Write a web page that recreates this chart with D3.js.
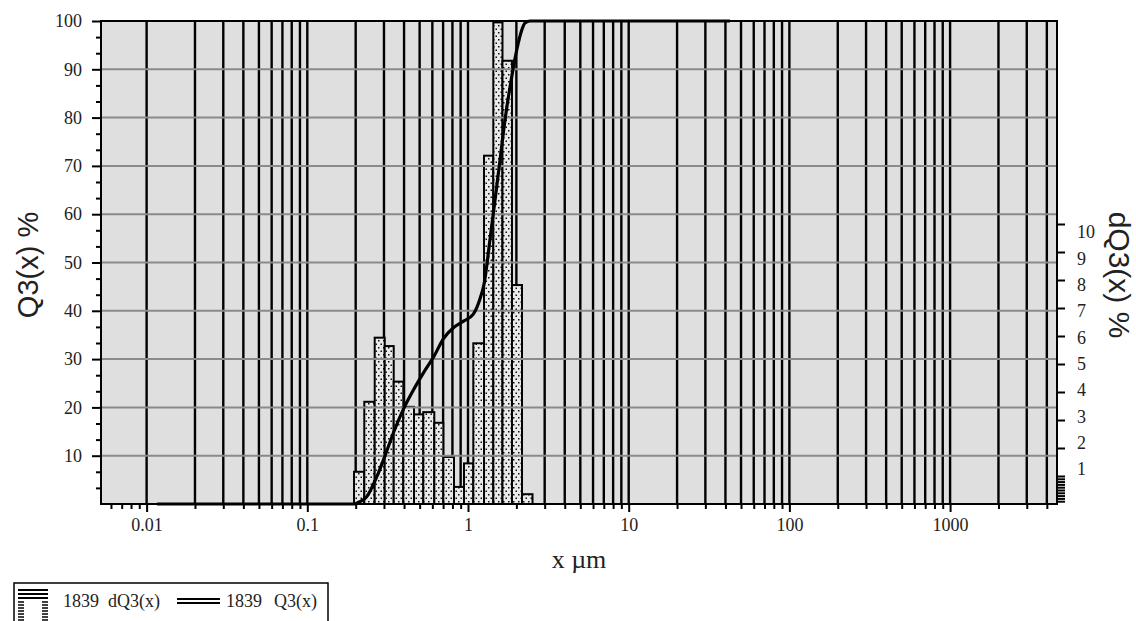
<!DOCTYPE html>
<html>
<head>
<meta charset="utf-8">
<script src="https://cdn.jsdelivr.net/npm/d3@7"></script>
<style>
  body { margin: 0; background: #fff; }
  .tick text { font-family: "Liberation Serif", serif; font-size: 18px; fill: #222; }
  .tick line { stroke: #000; stroke-width: 2px; }
</style>
</head>
<body>
<script>
// size classes (um) and class percentages dQ3
var binEdges = [0.1953, 0.2263, 0.2627, 0.3031, 0.3449, 0.3957, 0.4613, 0.527, 0.617, 0.7019,
                0.8182, 0.9443, 1.079, 1.258, 1.437, 1.639, 1.878, 2.168, 2.52];
var dQ3 = [1.15, 3.65, 5.94, 5.64, 4.37, 3.47, 3.2, 3.28, 2.9, 1.68, 0.61, 1.45, 5.74, 12.44, 17.2, 15.83, 7.82, 0.35];

// cumulative curve Q3
var q3X = [0.0116, 0.1953, 0.2068, 0.2342, 0.2703, 0.303, 0.345, 0.396, 0.461, 0.527, 0.617, 0.702,
           0.818, 0.944, 1.079, 1.188, 1.258, 1.37, 1.472, 1.582, 1.699, 1.87, 2.01, 2.159, 2.263, 2.431, 42.7];
var q3Y = [0, 0, 0.3, 1.5, 5.6, 9.8, 14.9, 19.6, 23.8, 27.1, 30.7, 34.2,
           36.6, 37.9, 39.3, 42.5, 45.5, 54.7, 62.9, 71.2, 79.5, 88.4, 94, 98.1, 99.6, 100, 100];

var xTicks = [0.01, 0.1, 1, 10, 100, 1000];
var xTickLabels = ["0.01", "0.1", "1", "10", "100", "1000"];
var leftTicks = [10, 20, 30, 40, 50, 60, 70, 80, 90, 100];
var rightTicks = [1, 2, 3, 4, 5, 6, 7, 8, 9, 10];

var W = 1136, H = 621;
var L = 101, R = 1057, T = 21, B = 504;

var svg = d3.select("body").append("svg")
  .attr("width", W).attr("height", H);

var x = d3.scaleLog().domain([0.005202, 4627]).range([L, R]);
var yL = d3.scaleLinear().domain([0, 100]).range([B, T]);
var yR = d3.scaleLinear().domain([0, 17.25]).range([B, T]);
// the right labels sit a little off the ticks in the original
var yRLabel = d3.scaleLinear().domain([1, 10]).range([469, 232]);

// dotted fill for the bars
var defs = svg.append("defs");
var pat = defs.append("pattern").attr("id", "dots")
  .attr("patternUnits", "userSpaceOnUse").attr("width", 5).attr("height", 7);
pat.append("rect").attr("width", 5).attr("height", 7).attr("fill", "#e9e9e9");
pat.append("rect").attr("x", 0.5).attr("y", 0.5).attr("width", 1.5).attr("height", 1.5).attr("fill", "#111");
pat.append("rect").attr("x", 3).attr("y", 4).attr("width", 1.5).attr("height", 1.5).attr("fill", "#111");

var clip = defs.append("clipPath").attr("id", "plotclip");
clip.append("rect").attr("x", L).attr("y", T).attr("width", R - L).attr("height", B - T);

// plot background
svg.append("rect").attr("x", L).attr("y", T).attr("width", R - L).attr("height", B - T)
  .attr("fill", "#dfdfdf");

// log grid, vertical
var gridX = [];
for (var e = -2; e <= 3; e++) {
  for (var k = 1; k <= 9; k++) {
    var v = k * Math.pow(10, e);
    if (v >= 0.01 && v < 4627) gridX.push(v);
  }
}
var plot = svg.append("g").attr("clip-path", "url(#plotclip)");
plot.selectAll(".vgrid").data(gridX).enter().append("line")
  .attr("class", "vgrid")
  .attr("x1", function(d) { return x(d); }).attr("x2", function(d) { return x(d); })
  .attr("y1", T).attr("y2", B)
  .attr("stroke", "#000").attr("stroke-width", 2.4);

// histogram
var bars = dQ3.map(function(v, i) { return { x0: binEdges[i], x1: binEdges[i + 1], v: v }; });
plot.selectAll(".bar").data(bars).enter().append("rect")
  .attr("class", "bar")
  .attr("x", function(d) { return x(d.x0); })
  .attr("width", function(d) { return x(d.x1) - x(d.x0); })
  .attr("y", function(d) { return yR(d.v); })
  .attr("height", function(d) { return yR(0) - yR(d.v); })
  .attr("fill", "url(#dots)")
  .attr("stroke", "#000").attr("stroke-width", 2);

// horizontal grid
plot.selectAll(".hgrid").data(leftTicks.slice(0, 9)).enter().append("line")
  .attr("class", "hgrid")
  .attr("x1", L).attr("x2", R)
  .attr("y1", function(d) { return yL(d); }).attr("y2", function(d) { return yL(d); })
  .attr("stroke", "#8a8a8a").attr("stroke-width", 2);

// Q3 curve
var line = d3.line()
  .x(function(d) { return x(d[0]); })
  .y(function(d) { return yL(d[1]); })
  .curve(d3.curveMonotoneX);
svg.append("path")
  .datum(q3X.map(function(v, i) { return [v, q3Y[i]]; }))
  .attr("d", line)
  .attr("fill", "none").attr("stroke", "#000").attr("stroke-width", 3.2);

// frame
svg.append("rect").attr("x", L).attr("y", T).attr("width", R - L).attr("height", B - T)
  .attr("fill", "none").attr("stroke", "#000").attr("stroke-width", 2);

// x axis
var minorX = [];
for (var e2 = -3; e2 <= 3; e2++) {
  for (var k2 = 2; k2 <= 9; k2++) {
    var mv = k2 * Math.pow(10, e2);
    if (mv > 0.005202 && mv < 4627) minorX.push(mv);
  }
}
svg.append("g").attr("transform", "translate(0," + B + ")")
  .call(d3.axisBottom(x).tickValues(xTicks).tickSize(8).tickPadding(6)
    .tickFormat(function(d, i) { return xTickLabels[i]; }));
svg.append("g").attr("transform", "translate(0," + B + ")")
  .call(d3.axisBottom(x).tickValues(minorX).tickSize(5).tickFormat(""));

// left axis
var minorL = [];
for (var j = 0; j < 30; j++) { if (j % 3 !== 0) minorL.push(j * 10 / 3); }
svg.append("g").attr("transform", "translate(" + L + ",0)")
  .call(d3.axisLeft(yL).tickValues(leftTicks).tickSize(9).tickPadding(10));
svg.append("g").attr("transform", "translate(" + L + ",0)")
  .call(d3.axisLeft(yL).tickValues(minorL).tickSize(5).tickFormat(""));

// right axis
var minorR = d3.range(1, 10).map(function(d) { return d / 10; });
var rAxis = svg.append("g").attr("transform", "translate(" + R + ",0)")
  .call(d3.axisRight(yR).tickValues(rightTicks).tickSize(8).tickPadding(12));
rAxis.selectAll(".tick text")
  .attr("y", function(d) { return yRLabel(d) - yR(d); });
svg.append("g").attr("transform", "translate(" + R + ",0)")
  .call(d3.axisRight(yR).tickValues(minorR).tickSize(8).tickFormat(""));

svg.selectAll(".domain").remove();

// titles
svg.append("text")
  .attr("transform", "translate(38,265) rotate(-90)")
  .attr("text-anchor", "middle")
  .style("font-family", "Liberation Sans, Arial, sans-serif").style("font-size", "29px").style("fill", "#222")
  .text("Q3(x) %");
svg.append("text")
  .attr("transform", "translate(1109,275) rotate(90)")
  .attr("text-anchor", "middle")
  .style("font-family", "Liberation Sans, Arial, sans-serif").style("font-size", "30px").style("fill", "#222")
  .text("dQ3(x) %");
svg.append("text")
  .attr("x", 579).attr("y", 568)
  .attr("text-anchor", "middle")
  .style("font-family", "Liberation Serif, serif").style("font-size", "26px").style("fill", "#222")
  .text("x µm");

// legend
var leg = svg.append("g");
leg.append("rect").attr("x", 14).attr("y", 583).attr("width", 314).attr("height", 60)
  .attr("fill", "#fff").attr("stroke", "#000").attr("stroke-width", 1.5);
[590, 594, 598].forEach(function(yy) {
  leg.append("line").attr("x1", 18).attr("x2", 48).attr("y1", yy).attr("y2", yy)
    .attr("stroke", "#000").attr("stroke-width", 2);
});
d3.range(602, 622, 3).forEach(function(yy) {
  leg.append("line").attr("x1", 18).attr("x2", 24).attr("y1", yy).attr("y2", yy)
    .attr("stroke", "#000").attr("stroke-width", 1.5);
  leg.append("line").attr("x1", 42).attr("x2", 48).attr("y1", yy).attr("y2", yy)
    .attr("stroke", "#000").attr("stroke-width", 1.5);
});
[599, 603].forEach(function(yy) {
  leg.append("line").attr("x1", 177).attr("x2", 220).attr("y1", yy).attr("y2", yy)
    .attr("stroke", "#000").attr("stroke-width", 1.8);
});
var legText = [
  { x: 63, t: "1839" }, { x: 108, t: "dQ3(x)" },
  { x: 226, t: "1839" }, { x: 274, t: "Q3(x)" }
];
leg.selectAll(".lt").data(legText).enter().append("text")
  .attr("x", function(d) { return d.x; }).attr("y", 607)
  .style("font-family", "Liberation Serif, serif").style("font-size", "18px").style("fill", "#222")
  .text(function(d) { return d.t; });
</script>
</body>
</html>
